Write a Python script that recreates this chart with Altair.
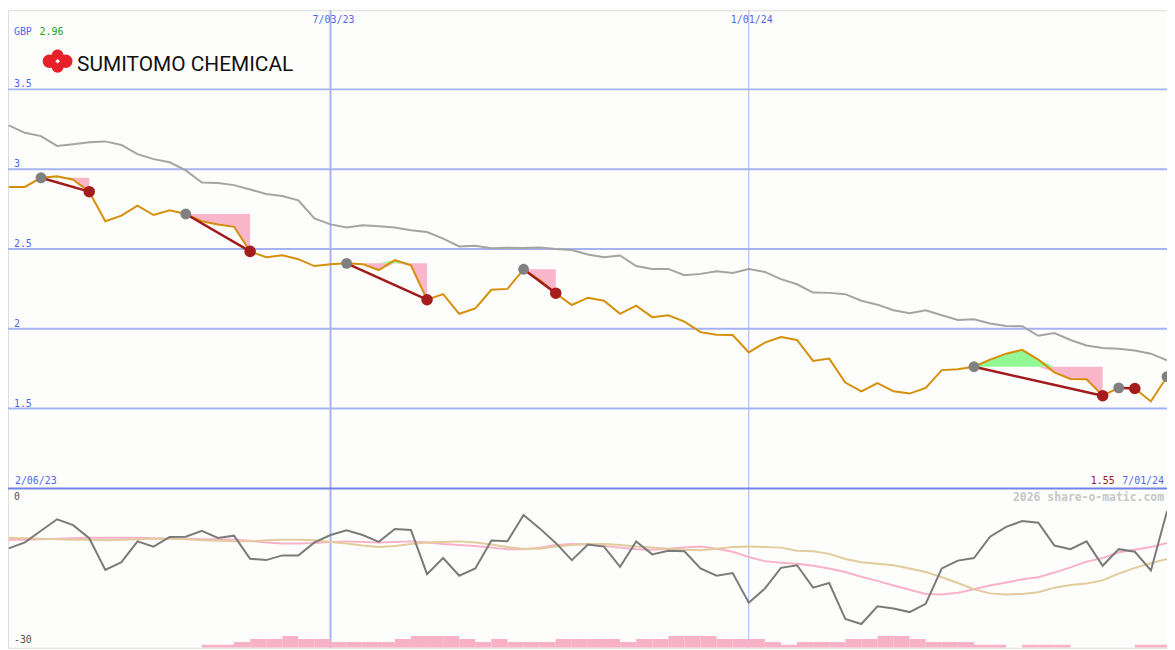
import altair as alt
import pandas as pd

# ---------------- data ----------------
weeks = list(range(73))  # weekly points; week 20 = 7/03/23, week 46 = 1/01/24, week 72 = 7/01/24
price = [2.889, 2.889, 2.946, 2.955, 2.934, 2.859, 2.674, 2.709, 2.772, 2.713,
         2.742, 2.719, 2.674, 2.654, 2.639, 2.485, 2.448, 2.461, 2.436, 2.393,
         2.405, 2.41, 2.405, 2.368, 2.43, 2.397, 2.182, 2.217, 2.094, 2.127,
         2.244, 2.25, 2.373, 2.305, 2.223, 2.149, 2.195, 2.176, 2.094, 2.145,
         2.073, 2.085, 2.045, 1.979, 1.962, 1.961, 1.852, 1.913, 1.948, 1.93,
         1.799, 1.813, 1.663, 1.608, 1.66, 1.608, 1.594, 1.629, 1.741, 1.747,
         1.762, 1.807, 1.844, 1.868, 1.807, 1.727, 1.686, 1.684, 1.581, 1.63,
         1.626, 1.545, 1.70]
ma = [3.275, 3.228, 3.207, 3.146, 3.156, 3.168, 3.174, 3.152, 3.094, 3.063,
      3.043, 2.992, 2.916, 2.914, 2.9, 2.873, 2.844, 2.832, 2.805, 2.691,
      2.654, 2.635, 2.649, 2.643, 2.635, 2.617, 2.606, 2.565, 2.516, 2.52,
      2.504, 2.508, 2.506, 2.51, 2.5, 2.494, 2.466, 2.448, 2.459, 2.393,
      2.375, 2.375, 2.336, 2.344, 2.36, 2.35, 2.375, 2.356, 2.311, 2.279,
      2.227, 2.225, 2.217, 2.176, 2.151, 2.116, 2.098, 2.116, 2.085, 2.055,
      2.059, 2.033, 2.018, 2.016, 1.956, 1.973, 1.93, 1.895, 1.879, 1.875,
      1.864, 1.844, 1.803]
osc = [-11.45, -10.3, -8.05, -5.85, -6.98, -9.5, -15.6, -14.1, -10.1, -11.1,
       -9.25, -9.2, -8.05, -9.43, -9.0, -13.45, -13.7, -12.8, -12.8, -10.3,
       -8.87, -7.98, -8.87, -10.2, -7.7, -7.92, -16.4, -13.3, -16.7, -15.3,
       -9.94, -10.06, -5.03, -7.6, -10.4, -13.7, -10.7, -11.1, -15.0, -10.1,
       -12.6, -11.9, -12.0, -15.3, -16.7, -16.2, -21.9, -19.2, -15.2, -14.7,
       -19.0, -18.1, -25.0, -26.0, -22.6, -23.0, -23.7, -22.1, -15.3, -13.8,
       -13.3, -9.2, -7.3, -6.2, -6.5, -10.9, -11.6, -10.1, -14.8, -11.6,
       -12.1, -15.7, -4.3]
osc_pink = [-9.8, -9.8, -9.7, -9.6, -9.5, -9.4, -9.4, -9.4, -9.4, -9.5,
            -9.6, -9.6, -9.7, -9.7, -9.8, -10.0, -10.3, -10.5, -10.5, -10.4,
            -10.2, -10.1, -10.2, -10.3, -10.2, -10.1, -10.3, -10.6, -10.8, -11.0,
            -11.3, -11.6, -11.6, -11.3, -10.8, -10.6, -10.7, -11.0, -11.3, -11.6,
            -11.7, -11.5, -11.3, -11.1, -11.5, -12.1, -13.1, -13.9, -14.2, -14.4,
            -14.8, -15.3, -16.0, -16.9, -17.7, -18.6, -19.4, -20.2, -20.3, -20.0,
            -19.3, -18.6, -18.0, -17.4, -17.0, -16.1, -15.1, -14.0, -13.3, -12.2,
            -11.7, -11.2, -10.4]
osc_tan = [-9.4, -9.5, -9.6, -9.7, -9.8, -9.8, -9.9, -9.8, -9.7, -9.6,
           -9.6, -9.7, -9.9, -10.0, -10.1, -10.1, -9.9, -9.8, -9.8, -9.9,
           -10.2, -10.5, -10.9, -11.2, -11.0, -10.6, -10.3, -10.2, -10.1, -10.3,
           -10.7, -11.2, -11.5, -11.5, -11.1, -10.8, -10.6, -10.6, -10.8, -11.1,
           -11.3, -11.5, -11.7, -11.8, -11.5, -11.2, -11.1, -11.2, -11.3, -11.9,
           -12.0, -12.5, -13.5, -14.1, -14.4, -14.7, -15.3, -16.0, -17.0, -18.1,
           -19.3, -20.1, -20.3, -20.2, -19.9, -19.0, -18.5, -18.2, -17.6, -16.3,
           -15.2, -14.3, -13.5]
vol = [0] * 12 + [1, 1, 2, 3, 3, 4, 3, 3, 2, 2, 2, 2, 3, 4, 4, 4, 3, 2, 3, 2,
                  2, 2, 3, 3, 3, 3, 2, 3, 3, 4, 4, 4, 3, 3, 3, 2, 1, 2, 2, 2,
                  3, 3, 4, 4, 3, 2, 2, 2, 1, 1, 0, 1, 1, 1, 0, 0, 0, 0, 1, 1, 0]

entry_weeks = [2, 11, 21, 32, 60, 69, 72]
exit_weeks = [5, 15, 26, 34, 68, 70]

price_ticks = [3.5, 3.0, 2.5, 2.0, 1.5]
price_tick_labels = ["3.5", "3", "2.5", "2", "1.5"]
vgrid_weeks = [20, 46]
vgrid_labels = ["7/03/23", "1/01/24"]
vgrid_widths = [2, 1]
osc_ticks = [0, -30]
osc_tick_labels = ["0", "-30"]
start_label, end_label = "2/06/23", "7/01/24"
currency_label, high_label, low_label = "GBP", "2.96", "1.55"
company = "SUMITOMO CHEMICAL"
watermark = "2026 share-o-matic.com"

# ---------------- layout ----------------
W, H = 1167, 642
SX, SY = W / 1175, H / 650
PB = 487.5 * SY  # bottom of the price panel

MONO = "DejaVu Sans Mono"
BLUE_TXT = "#5166ef"
GRID = "#a6b3f2"
SEP = "#7383e6"
ORANGE = "#d68f08"
MA_GRAY = "#a4a4a4"
SIG_RED = "#a21a1a"
DOT_GRAY = "#808080"
DOT_RED = "#a41c1c"
PINK_FILL = "#f9b5ca"
GREEN_FILL = "#93f793"
OSC_GRAY = "#7a7a7a"
OSC_PINK = "#f8b2c8"
OSC_TAN = "#e2cb9c"
BG = "#fdfefc"

xs = alt.Scale(domain=[-0.05, 72.0])
ps = alt.Scale(domain=[1.0, 3.996], range=[PB, 0])
oscs = alt.Scale(domain=[-30.57, 0.09], range=[H, PB])
vs = alt.Scale(domain=[0, 54.17], range=[H, PB])

X = alt.X("k:Q", scale=xs, axis=None)

df = pd.DataFrame({"k": weeks, "price": price, "ma": ma, "osc": osc,
                   "pink": osc_pink, "tan": osc_tan, "vol": vol})

# trades
rows = []
for t, (a, b) in enumerate(zip(entry_weeks, exit_weeks)):
    for k in range(a, b + 1):
        rows.append({"trade": t, "k": k, "entry": price[a], "price": price[k]})
trades = pd.DataFrame(rows)
sig = pd.DataFrame({"k": entry_weeks[:len(exit_weeks)], "k2": exit_weeks,
                    "p": [price[a] for a in entry_weeks[:len(exit_weeks)]],
                    "p2": [price[b] for b in exit_weeks]})
entries = pd.DataFrame({"k": entry_weeks, "p": [price[a] for a in entry_weeks]})
exits = pd.DataFrame({"k": exit_weeks, "p": [price[b] for b in exit_weeks]})

base = alt.Chart(df)

hgrid = alt.Chart(pd.DataFrame({"p": price_ticks})).mark_rule(
    color=GRID, strokeWidth=2).encode(y=alt.Y("p:Q", scale=ps, axis=None))
hlabels = alt.Chart(pd.DataFrame({"p": price_ticks, "t": price_tick_labels})).mark_text(
    align="left", baseline="alphabetic", font=MONO, fontSize=10, color=BLUE_TXT, dy=-2
).encode(y=alt.Y("p:Q", scale=ps, axis=None), x=alt.value(6 * SX), text="t:N")

vgrid = alt.Chart(pd.DataFrame({"k": vgrid_weeks, "w": vgrid_widths})).mark_rule(
    color=GRID).encode(x=X, strokeWidth=alt.StrokeWidth("w:Q", scale=None, legend=None))
vlabels = alt.Chart(pd.DataFrame({"k": vgrid_weeks, "t": vgrid_labels})).mark_text(
    align="center", baseline="alphabetic", font=MONO, fontSize=10, color=BLUE_TXT, dx=3
).encode(x=X, y=alt.value(12.7 * SY), text="t:N")

sep = alt.Chart(pd.DataFrame({"a": [0]})).mark_rule(color=SEP, strokeWidth=2).encode(
    y=alt.value(PB))

bars = base.transform_calculate(k1="datum.k + 1", zero="0").mark_rect(
    color=OSC_PINK, clip=True).encode(
    x=X, x2="k1:Q", y=alt.Y("vol:Q", scale=vs, axis=None), y2="zero:Q")

tr = alt.Chart(trades).transform_calculate(
    lo="min(datum.price, datum.entry)", hi="max(datum.price, datum.entry)")
pink_area = tr.mark_area(color=PINK_FILL, opacity=1).encode(
    x=X, y=alt.Y("entry:Q", scale=ps, axis=None), y2="lo:Q", detail="trade:N")
green_area = tr.mark_area(color=GREEN_FILL, opacity=1).encode(
    x=X, y=alt.Y("entry:Q", scale=ps, axis=None), y2="hi:Q", detail="trade:N")

ma_line = base.mark_line(color=MA_GRAY, strokeWidth=2).encode(
    x=X, y=alt.Y("ma:Q", scale=ps, axis=None))
price_line = base.mark_line(color=ORANGE, strokeWidth=2).encode(
    x=X, y=alt.Y("price:Q", scale=ps, axis=None))

pink_line = base.mark_line(color=OSC_PINK, strokeWidth=2).encode(
    x=X, y=alt.Y("pink:Q", scale=oscs, axis=None))
tan_line = base.mark_line(color=OSC_TAN, strokeWidth=2).encode(
    x=X, y=alt.Y("tan:Q", scale=oscs, axis=None))
osc_line = base.mark_line(color=OSC_GRAY, strokeWidth=2).encode(
    x=X, y=alt.Y("osc:Q", scale=oscs, axis=None))

sig_lines = alt.Chart(sig).mark_rule(color=SIG_RED, strokeWidth=2.5).encode(
    x=X, x2="k2:Q", y=alt.Y("p:Q", scale=ps, axis=None), y2="p2:Q")
entry_dots = alt.Chart(entries).mark_circle(color=DOT_GRAY, size=120, opacity=1, clip=True).encode(
    x=X, y=alt.Y("p:Q", scale=ps, axis=None))
exit_dots = alt.Chart(exits).mark_circle(color=DOT_RED, size=135, opacity=1, clip=True).encode(
    x=X, y=alt.Y("p:Q", scale=ps, axis=None))

osc_lab0 = alt.Chart(pd.DataFrame({"v": osc_ticks[:1], "t": osc_tick_labels[:1]})).mark_text(
    align="left", baseline="alphabetic", font=MONO, fontSize=10, color="#555555", dy=11
).encode(y=alt.Y("v:Q", scale=oscs, axis=None), x=alt.value(6 * SX), text="t:N")
osc_lab1 = alt.Chart(pd.DataFrame({"v": osc_ticks[1:], "t": osc_tick_labels[1:]})).mark_text(
    align="left", baseline="alphabetic", font=MONO, fontSize=10, color="#555555", dy=-2
).encode(y=alt.Y("v:Q", scale=oscs, axis=None), x=alt.value(6 * SX), text="t:N")


def txt(text, x, y, color, size=10, align="left", weight="normal", font=MONO):
    return alt.Chart(pd.DataFrame({"t": [text]})).mark_text(
        align=align, baseline="alphabetic", font=font, fontSize=size,
        fontWeight=weight, color=color).encode(
        x=alt.value(x), y=alt.value(y), text="t:N")


texts = [
    txt(currency_label, 6 * SX, 25 * SY, BLUE_TXT),
    txt(high_label, 32 * SX, 25 * SY, "#22a022"),
    txt(start_label, 7 * SX, 483 * SY, BLUE_TXT),
    txt(low_label, 1122 * SX, 483 * SY, "#a01818", align="right"),
    txt(end_label, 1172 * SX, 483 * SY, BLUE_TXT, align="right"),
    txt(watermark, 1172 * SX, 500 * SY, "#c6c6c6", size=11.5, align="right", weight="bold"),
    txt(company, 70 * SX, 61.5 * SY, "#111111", size=21, font="Roboto"),
]

LOGO_PATH = ("M -1,0 A 0.45,0.45 0 1,1 -0.1,0 A 0.45,0.45 0 1,1 -1,0 Z "
             "M 0.1,0 A 0.45,0.45 0 1,1 1,0 A 0.45,0.45 0 1,1 0.1,0 Z "
             "M -0.4,-0.38 A 0.4,0.4 0 1,1 0.4,-0.38 A 0.4,0.4 0 1,1 -0.4,-0.38 Z "
             "M -0.4,0.38 A 0.4,0.4 0 1,1 0.4,0.38 A 0.4,0.4 0 1,1 -0.4,0.38 Z")
logo = alt.Chart(pd.DataFrame({"a": [0]})).mark_point(
    shape=LOGO_PATH, filled=True, color="#e8202a", opacity=1, size=900, strokeWidth=0
).encode(x=alt.value(50.3 * SX), y=alt.value(52 * SY))
logo_dot = alt.Chart(pd.DataFrame({"a": [0]})).mark_point(
    shape="diamond", filled=True, color="#ffffff", opacity=1, size=22, strokeWidth=0
).encode(x=alt.value(50.3 * SX), y=alt.value(52 * SY))

chart = alt.layer(
    hgrid, vgrid, sep, bars, pink_area, green_area, ma_line,
    pink_line, tan_line, osc_line, price_line, sig_lines, entry_dots, exit_dots,
    hlabels, vlabels, osc_lab0, osc_lab1, logo, logo_dot, *texts
).resolve_scale(y="independent").properties(
    width=W, height=H, padding=0,
    autosize=alt.AutoSizeParams(type="none")
).configure_view(strokeWidth=0, stroke="transparent", fill=BG).configure(background=BG)

chart.save("out.html", embed_options={"renderer": "svg", "actions": False})
